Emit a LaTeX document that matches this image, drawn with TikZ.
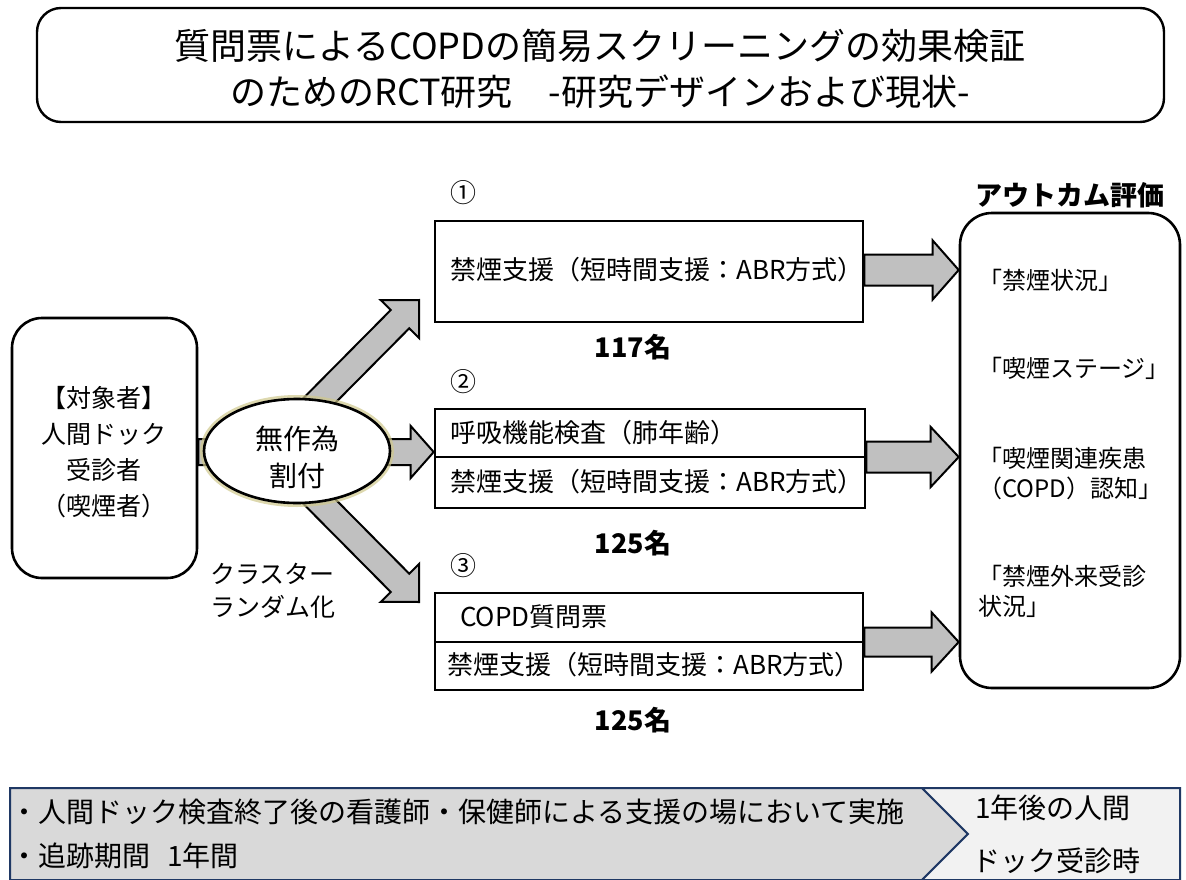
\documentclass[tikz,border=0pt]{standalone}
\usepackage{fontspec}
\setmainfont{Noto Sans CJK JP}
\usetikzlibrary{calc,shapes.geometric}
\definecolor{arrgray}{HTML}{C0C0C0}
\definecolor{bannergray}{HTML}{D9D9D9}
\definecolor{bannerlight}{HTML}{F2F2F2}
\definecolor{bannernavy}{HTML}{1F3864}
\definecolor{glowcol}{HTML}{CFC88C}
\newcommand{\fs}[2]{\fontsize{#1}{#2}\selectfont}
% block arrow: start, tip, shaft half width, head half width, head length
\newcommand{\blockarrow}[5]{%
  \draw[blockarr] ($(#1)!#3!90:(#2)$) -- ($(#2)!#5!(#1)!#3!-90:(#1)$) -- ($(#2)!#5!(#1)!#4!-90:(#1)$) -- (#2) -- ($(#2)!#5!(#1)!#4!90:(#1)$) -- ($(#2)!#5!(#1)!#3!90:(#1)$) -- ($(#1)!#3!-90:(#2)$) -- cycle;}
\begin{document}
\begin{tikzpicture}[x=1pt,y=-1pt,
  boxline/.style={draw=black, line width=2.6pt, fill=white, inner sep=0pt},
  blockarr/.style={draw=black, line width=2pt, fill=arrgray, line join=miter},
  txt/.style={inner sep=0pt, font=\fs{26}{30}},
  numtxt/.style={inner sep=0pt, font=\bfseries\fs{27}{30}},
  outtxt/.style={inner sep=0pt, font=\fs{24}{30}, align=left, anchor=west},
  bantxt/.style={inner sep=0pt, font=\fs{28}{30}, anchor=west},
]
\useasboundingbox (0,0) rectangle (1186,880);
\fill[white] (0,0) rectangle (1186,880);

% ---------- title ----------
\node[boxline, line width=2.4pt, rounded corners=24pt, minimum width=1127pt, minimum height=114pt] (title) at (600.5,65) {};
\node[inner sep=0pt, font=\fs{36}{46}, align=center] (titletext) at (600,69)
  {質問票によるCOPDの簡易スクリーニングの効果検証\\のためのRCT研究\quad -研究デザインおよび現状-};

% ---------- boxes ----------
\node[boxline, rounded corners=30pt, minimum width=185pt, minimum height=260pt] (subj) at (104.5,448) {};
\node[inner sep=0pt, font=\fs{25}{36}, align=center] (subjtext) at (104,452)
  {【対象者】\\人間ドック\\受診者\\（喫煙者）};

\node[boxline, minimum width=428pt, minimum height=101pt] (g1) at (649,271.5) {};
\node[boxline, minimum width=430pt, minimum height=48pt] (g2a) at (650,433) {};
\node[boxline, minimum width=430pt, minimum height=51pt] (g2b) at (650,482.5) {};
\node[boxline, minimum width=428pt, minimum height=49pt] (g3a) at (649,617.5) {};
\node[boxline, minimum width=428pt, minimum height=48pt] (g3b) at (649,666) {};

\node[boxline, rounded corners=32pt, minimum width=220pt, minimum height=475pt] (out) at (1070,450.5) {};

% ---------- arrows ----------
\coordinate (us) at (300,420);
\coordinate (ut) at (419,300);
\coordinate (ls) at (300,482);
\coordinate (lt) at (419,602);
\coordinate (hs) at (subj.east |- 0,452);
\coordinate (ht) at (g2a.west |- 0,452);
\blockarrow{us}{ut}{13pt}{27pt}{27pt}
\blockarrow{ls}{lt}{13pt}{27pt}{27pt}
\blockarrow{hs}{ht}{13pt}{26pt}{23pt}

\coordinate (r1s) at (g1.east |- 0,270);
\coordinate (r1t) at (out.west |- 0,270);
\coordinate (r2s) at (g2a.east |- 0,457);
\coordinate (r2t) at (out.west |- 0,457);
\coordinate (r3s) at (g3a.east |- 0,642);
\coordinate (r3t) at (out.west |- 0,642);
\blockarrow{r1s}{r1t}{15.5pt}{29.5pt}{26pt}
\blockarrow{r2s}{r2t}{15.5pt}{30pt}{28pt}
\blockarrow{r3s}{r3t}{14.5pt}{29.5pt}{27pt}

% ---------- ellipse ----------
\draw[glowcol, line width=5pt, opacity=0.7] (297,451) ellipse (94.5pt and 53.5pt);
\node[boxline, ellipse, minimum width=186pt, minimum height=104pt] (rand) at (297,451) {};
\node[inner sep=0pt, font=\fs{28}{37}, align=center] (randtext) at (297,457) {無作為\\割付};

% ---------- texts ----------
\node[txt, anchor=west] (t1) at (450,270) {禁煙支援（短時間支援：ABR方式）};
\node[txt, anchor=west] (t2a) at (450,433) {呼吸機能検査（肺年齢）};
\node[txt, anchor=west] (t2b) at (450,482) {禁煙支援（短時間支援：ABR方式）};
\node[txt, anchor=west] (t3a) at (460,617) {COPD質問票};
\node[txt, anchor=west] (t3b) at (447,665) {禁煙支援（短時間支援：ABR方式）};

\node[txt] (c1) at (463,193) {①};
\node[txt] (c2) at (463,382) {②};
\node[txt] (c3) at (463,566) {③};

\node[numtxt] (n1) at (633,347) {117名};
\node[numtxt] (n2) at (633,543) {125名};
\node[numtxt] (n3) at (633,720) {125名};

\node[inner sep=0pt, font=\fs{25}{33}, align=left, anchor=west] (cluster) at (210,591) {クラスター\\ランダム化};

\node[inner sep=0pt, font=\bfseries\fs{27}{30}] (outtitle) at (1070,195) {アウトカム評価};
\node[outtxt] (o1) at (978,280) {「禁煙状況」};
\node[outtxt] (o2) at (978,368) {「喫煙ステージ」};
\node[outtxt] (o3) at (978,473) {「喫煙関連疾患\\（COPD）認知」};
\node[outtxt] (o4) at (978,591) {「禁煙外来受診\\状況」};

% ---------- bottom banner ----------
\path[fill=bannergray, draw=bannernavy, line width=2pt] (10,788) -- (922,788) -- (968,834) -- (922,880) -- (10,880) -- cycle;
\path[fill=bannerlight, draw=bannernavy, line width=2pt] (922,788) -- (1180,788) -- (1180,880) -- (922,880) -- (968,834) -- cycle;
\node[bantxt] (b1) at (10,812) {・人間ドック検査終了後の看護師・保健師による支援の場において実施};
\node[bantxt] (b2) at (10,856) {・追跡期間\hspace{0.6em}1年間};
\node[bantxt] (b3) at (975,808) {1年後の人間};
\node[bantxt] (b4) at (972,861) {ドック受診時};
\end{tikzpicture}
\end{document}
